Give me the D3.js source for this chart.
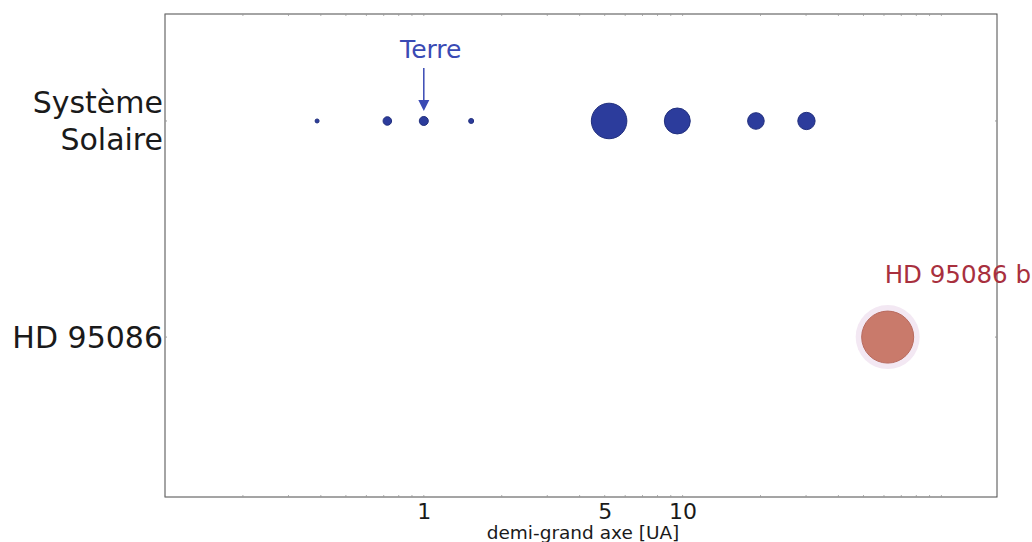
<!DOCTYPE html>
<html>
<head>
<meta charset="utf-8">
<script src="https://cdn.jsdelivr.net/npm/d3@7"></script>
<style>
  html, body { margin: 0; padding: 0; background: #fff; }
  svg { display: block; font-family: "DejaVu Sans", sans-serif; }
</style>
</head>
<body>
<svg id="chart" width="1032" height="542"></svg>
<script>
// ---- data ----
const systems = ["Système Solaire", "HD 95086"];
const systemLines = [["Système", "Solaire"], ["HD 95086"]];
const planetNames = ["Mercure", "Vénus", "Terre", "Mars", "Jupiter", "Saturne", "Uranus", "Neptune", "HD 95086 b"];
const planetSystem = ["Système Solaire", "Système Solaire", "Système Solaire", "Système Solaire", "Système Solaire", "Système Solaire", "Système Solaire", "Système Solaire", "HD 95086"];
const semiMajorAxis = [0.387, 0.723, 1.0, 1.524, 5.2, 9.54, 19.2, 30.1, 62];
const relativeSize = [0.2, 0.9, 1.0, 0.31, 15.6, 8.3, 3.4, 3.7, 33.4];
const xTickValues = [1, 5, 10];
const xTickLabels = ["1", "5", "10"];
const xLabel = "demi-grand axe [UA]";

(function () {
// ---- layout ----
const svg = d3.select("#chart");
const mLeft = 165, mRight = 997, mTop = 14, mBottom = 497;

const x = d3.scaleLog().domain([0.1, 164]).range([mLeft, mRight]);
const yPos = d3.scaleOrdinal().domain(systems).range([1, 0]);
const y = d3.scaleLinear().domain([-0.74, 1.495]).range([mBottom, mTop]);
const r = d3.scaleSqrt().domain([0, 1]).range([0, 4.5]);

const blue = "#2c3c9c";
const blueEdge = "#22307e";

// frame
svg.append("rect")
  .attr("x", mLeft).attr("y", mTop)
  .attr("width", mRight - mLeft).attr("height", mBottom - mTop)
  .attr("fill", "none").attr("stroke", "#4a4a4a").attr("stroke-width", 1);

// faint minor ticks on top and bottom spines
const minor = [];
for (let e = -1; e <= 2; e++) for (let m = 1; m <= 9; m++) {
  const v = m * Math.pow(10, e);
  if (v >= 0.1 && v <= 164) minor.push(v);
}
svg.append("g").selectAll("line").data(minor).join("line")
  .attr("x1", d => x(d)).attr("x2", d => x(d))
  .attr("y1", mTop).attr("y2", mTop + 2)
  .attr("stroke", "#999").attr("stroke-width", 0.8);
svg.append("g").selectAll("line").data(minor).join("line")
  .attr("x1", d => x(d)).attr("x2", d => x(d))
  .attr("y1", mBottom).attr("y2", mBottom - 2)
  .attr("stroke", "#999").attr("stroke-width", 0.8);

// x axis labels (no tick lines)
const xAxis = d3.axisBottom(x).tickValues(xTickValues)
  .tickFormat((d, i) => xTickLabels[i]).tickSize(0).tickPadding(6);
const gx = svg.append("g").attr("transform", `translate(0,${mBottom})`).call(xAxis);
gx.select(".domain").remove();
gx.selectAll("text").attr("font-size", 22).attr("fill", "#1a1a1a")
  .attr("font-family", "DejaVu Sans, sans-serif");

svg.append("text")
  .attr("x", (mLeft + mRight) / 2 + 2).attr("y", 539)
  .attr("text-anchor", "middle").attr("font-size", 18.5).attr("fill", "#1a1a1a")
  .text(xLabel);

// y category labels
systems.forEach((s, i) => {
  const lines = systemLines[i];
  const cy = y(yPos(s));
  const lh = 37;
  const t = svg.append("text").attr("text-anchor", "end").attr("font-size", 30)
    .attr("fill", "#1a1a1a");
  lines.forEach((ln, j) => {
    t.append("tspan").attr("x", 163)
      .attr("y", cy + 11 + (j - (lines.length - 1) / 2) * lh)
      .text(ln);
  });
  svg.append("line").attr("x1", mLeft).attr("x2", mLeft + 2).attr("y1", cy).attr("y2", cy)
    .attr("stroke", "#999");
  svg.append("line").attr("x1", mRight).attr("x2", mRight - 2).attr("y1", cy).attr("y2", cy)
    .attr("stroke", "#999");
});

const planets = planetNames.map((n, i) => ({
  name: n, sys: planetSystem[i], a: semiMajorAxis[i], s: relativeSize[i]
}));

// halo for exoplanet
svg.append("g").selectAll("circle")
  .data(planets.filter(p => p.sys !== "Système Solaire")).join("circle")
  .attr("cx", p => x(p.a)).attr("cy", p => y(yPos(p.sys)))
  .attr("r", p => r(p.s) + 6)
  .attr("fill", "#f3e8f3");

svg.append("g").selectAll("circle").data(planets).join("circle")
  .attr("cx", p => x(p.a)).attr("cy", p => y(yPos(p.sys)))
  .attr("r", p => r(p.s))
  .attr("fill", p => p.sys === "Système Solaire" ? blue : "#c97a6b")
  .attr("stroke", p => p.sys === "Système Solaire" ? blueEdge : "#b86a5e")
  .attr("stroke-width", 1);

// Terre annotation
const earth = planets.find(p => p.name === "Terre");
const ex = x(earth.a);
svg.append("text").attr("x", ex + 7).attr("y", 58).attr("text-anchor", "middle")
  .attr("font-size", 25).attr("fill", "#3a4ab4").text("Terre");
svg.append("line").attr("x1", ex).attr("x2", ex).attr("y1", 68).attr("y2", 101)
  .attr("stroke", "#3a4ab4").attr("stroke-width", 1.5);
svg.append("path")
  .attr("d", `M${ex - 5.5},100 L${ex + 5.5},100 L${ex},111 Z`)
  .attr("fill", "#3a4ab4");

// exoplanet label
const exo = planets.find(p => p.name === "HD 95086 b");
svg.append("text").attr("x", x(exo.a) - 3).attr("y", 283)
  .attr("font-size", 24.5).attr("fill", "#a8303e").text(exo.name);
})();
</script>
</body>
</html>
